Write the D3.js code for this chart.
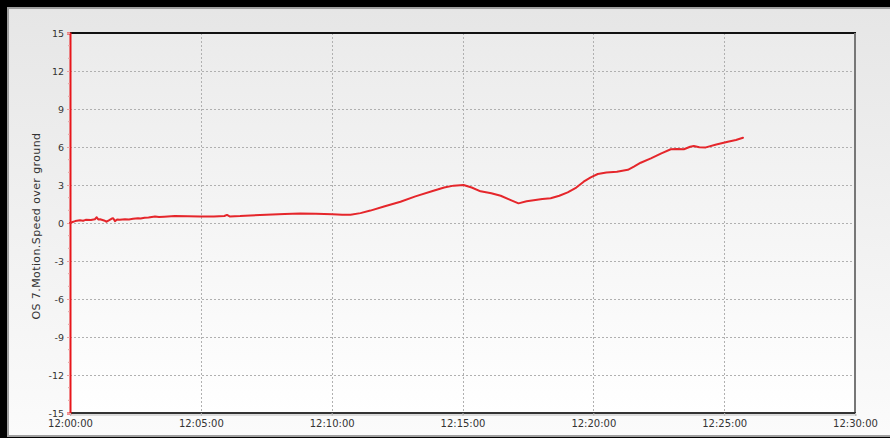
<!DOCTYPE html>
<html>
<head>
<meta charset="utf-8">
<script src="https://cdn.jsdelivr.net/npm/d3@7"></script>
<style>
  html, body { margin: 0; padding: 0; background: #fff; }
  svg { display: block; font-family: Tahoma, "DejaVu Sans", Verdana, sans-serif; }
</style>
</head>
<body>
<svg id="chart" width="890" height="438"></svg>
<script>
// Speed over ground, minutes after 12:00:00 and knots
const minutes = [0, 0.1, 0.2, 0.38, 0.5, 0.6, 0.8, 0.95, 1.02, 1.08, 1.15, 1.3, 1.4, 1.5, 1.6, 1.65, 1.72, 1.8, 1.9, 2.1, 2.25, 2.41, 2.6, 2.7, 2.85, 3.0, 3.25, 3.4, 3.6, 4.0, 4.5, 4.97, 5.5, 5.9, 6.0, 6.1, 6.5, 6.89, 7.5, 8.2, 8.8, 9.4, 10.03, 10.4, 10.72, 11.1, 11.48, 12.0, 12.63, 13.2, 13.89, 14.3, 14.66, 15.04, 15.35, 15.69, 16.1, 16.46, 16.8, 17.14, 17.45, 17.72, 18.05, 18.37, 18.7, 19.02, 19.35, 19.63, 19.9, 20.17, 20.5, 20.9, 21.32, 21.55, 21.81, 22.2, 22.6, 22.96, 23.2, 23.46, 23.7, 23.84, 24.05, 24.3, 24.7, 25.14, 25.45, 25.72];
const speed   = [0.0, 0.08, 0.15, 0.22, 0.18, 0.25, 0.24, 0.3, 0.45, 0.28, 0.3, 0.2, 0.1, 0.22, 0.35, 0.38, 0.15, 0.28, 0.25, 0.3, 0.28, 0.33, 0.38, 0.36, 0.42, 0.44, 0.52, 0.48, 0.5, 0.55, 0.53, 0.52, 0.52, 0.55, 0.64, 0.52, 0.55, 0.6, 0.65, 0.72, 0.75, 0.74, 0.7, 0.66, 0.66, 0.78, 0.98, 1.3, 1.68, 2.1, 2.55, 2.8, 2.95, 3.0, 2.8, 2.5, 2.35, 2.15, 1.85, 1.55, 1.72, 1.8, 1.9, 1.95, 2.15, 2.42, 2.8, 3.26, 3.6, 3.87, 3.98, 4.05, 4.2, 4.45, 4.76, 5.1, 5.5, 5.82, 5.84, 5.82, 6.02, 6.08, 5.98, 5.97, 6.2, 6.42, 6.55, 6.73];

const yTicks = [-15, -12, -9, -6, -3, 0, 3, 6, 9, 12, 15];
const xTickMinutes = [0, 5, 10, 15, 20, 25, 30];
const xTickLabels = ["12:00:00", "12:05:00", "12:10:00", "12:15:00", "12:20:00", "12:25:00", "12:30:00"];
const yTitle = "OS 7.Motion.Speed over ground";

const W = 890, H = 438;
const plot = { left: 70, top: 33, right: 855, bottom: 413 };
const labelFont = "Tahoma, 'DejaVu Sans', sans-serif";

const svg = d3.select("#chart");
const defs = svg.append("defs");

const bgGrad = defs.append("linearGradient").attr("id", "bgGrad")
  .attr("x1", 0).attr("y1", 0).attr("x2", 0).attr("y2", 1);
bgGrad.append("stop").attr("offset", "0%").attr("stop-color", "#e6e6e6");
bgGrad.append("stop").attr("offset", "100%").attr("stop-color", "#fbfbfb");

const plotGrad = defs.append("linearGradient").attr("id", "plotGrad")
  .attr("x1", 0).attr("y1", 0).attr("x2", 0).attr("y2", 1);
plotGrad.append("stop").attr("offset", "0%").attr("stop-color", "#ebebeb");
plotGrad.append("stop").attr("offset", "100%").attr("stop-color", "#ffffff");

// window frame: black on top, left and bottom, thin grey inner edge
svg.append("rect").attr("width", W).attr("height", H).attr("fill", "#000");
svg.append("rect").attr("x", 7).attr("y", 7).attr("width", W).attr("height", H - 8)
  .attr("fill", "#a0a0a0");
svg.append("rect").attr("x", 9).attr("y", 9).attr("width", W).attr("height", H - 12)
  .attr("fill", "url(#bgGrad)");

const x = d3.scaleLinear().domain([0, 30]).range([plot.left, plot.right]);
const y = d3.scaleLinear().domain([-15, 15]).range([plot.bottom, plot.top]);

// plot area
svg.append("rect")
  .attr("x", plot.left).attr("y", plot.top)
  .attr("width", plot.right - plot.left).attr("height", plot.bottom - plot.top)
  .attr("fill", "url(#plotGrad)");

// grid
const grid = svg.append("g").attr("stroke", "#b0b0b0").attr("stroke-width", 1)
  .attr("stroke-dasharray", "2,2").attr("shape-rendering", "crispEdges");
grid.selectAll("line.h").data(yTicks.slice(1, -1)).join("line").attr("class", "h")
  .attr("x1", plot.left).attr("x2", plot.right + 3)
  .attr("y1", d => Math.round(y(d)) + 0.5).attr("y2", d => Math.round(y(d)) + 0.5);
grid.selectAll("line.v").data(xTickMinutes.slice(1, -1)).join("line").attr("class", "v")
  .attr("y1", plot.top).attr("y2", plot.bottom + 4)
  .attr("x1", d => Math.round(x(d)) + 0.5).attr("x2", d => Math.round(x(d)) + 0.5);

// plot frame: top dark, right grey, bottom dark
svg.append("line").attr("x1", plot.left).attr("x2", plot.right + 1)
  .attr("y1", plot.top).attr("y2", plot.top).attr("stroke", "#111").attr("stroke-width", 2);
svg.append("line").attr("x1", plot.right).attr("x2", plot.right)
  .attr("y1", plot.top).attr("y2", plot.bottom).attr("stroke", "#777").attr("stroke-width", 2);
svg.append("line").attr("x1", plot.left).attr("x2", plot.right + 1)
  .attr("y1", plot.bottom).attr("y2", plot.bottom).attr("stroke", "#333").attr("stroke-width", 2);
svg.append("line").attr("x1", plot.left).attr("x2", plot.right + 2)
  .attr("y1", plot.bottom + 2).attr("y2", plot.bottom + 2).attr("stroke", "#bbb").attr("stroke-width", 1);

// y axis (red)
const yAxis = d3.axisLeft(y).tickValues(yTicks).tickSize(3).tickFormat(d => String(d));
const yg = svg.append("g").attr("transform", `translate(${plot.left},0)`).call(yAxis);
yg.select(".domain").attr("stroke", "#e8161b").attr("stroke-width", 2);
yg.selectAll(".tick line").attr("stroke", "#e8a0a0");
yg.selectAll(".tick text").attr("fill", "#333").attr("font-size", 9.5).attr("x", -6)
  .attr("font-family", labelFont);
// minor ticks
const minor = d3.range(-15, 15.01, 1).filter(v => v % 3 !== 0);
svg.append("g").selectAll("line").data(minor).join("line")
  .attr("x1", plot.left - 2).attr("x2", plot.left)
  .attr("y1", d => y(d)).attr("y2", d => y(d)).attr("stroke", "#e8a0a0");

// x axis
const xAxis = d3.axisBottom(x).tickValues(xTickMinutes).tickSize(3)
  .tickFormat((d, i) => xTickLabels[i]);
const xg = svg.append("g").attr("transform", `translate(0,${plot.bottom})`).call(xAxis);
xg.select(".domain").remove();
xg.selectAll(".tick line").attr("stroke", "#bbb");
xg.selectAll(".tick text").attr("fill", "#333").attr("font-size", 10).attr("y", 7)
  .attr("font-family", labelFont);

// y title
svg.append("text")
  .attr("transform", `translate(40,${(plot.top + plot.bottom) / 2 + 3}) rotate(-90)`)
  .attr("text-anchor", "middle").attr("fill", "#333").attr("font-size", 11)
  .attr("letter-spacing", 0.4)
  .attr("font-family", labelFont)
  .text(yTitle);

// series
const pts = minutes.map((m, i) => [m, speed[i]]);
const line = d3.line().x(d => x(d[0])).y(d => y(d[1]));
svg.append("path").datum(pts).attr("d", line)
  .attr("fill", "none").attr("stroke", "#e5262b").attr("stroke-width", 2)
  .attr("stroke-linejoin", "round").attr("stroke-linecap", "round");
</script>
</body>
</html>
